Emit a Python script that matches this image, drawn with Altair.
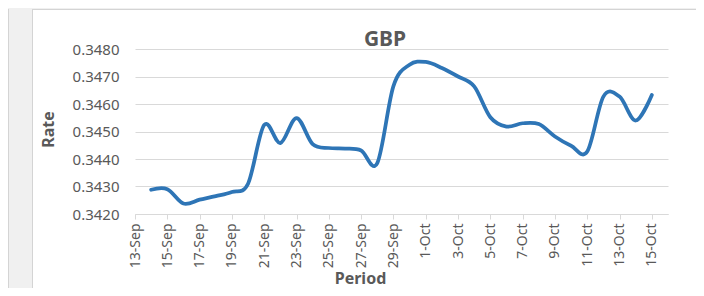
import altair as alt
import pandas as pd

# ---- data ----
dates = [
    "2020-09-14", "2020-09-15", "2020-09-16", "2020-09-17", "2020-09-18",
    "2020-09-19", "2020-09-20", "2020-09-21", "2020-09-22", "2020-09-23",
    "2020-09-24", "2020-09-25", "2020-09-26", "2020-09-27", "2020-09-28",
    "2020-09-29", "2020-09-30", "2020-10-01", "2020-10-02", "2020-10-03",
    "2020-10-04", "2020-10-05", "2020-10-06", "2020-10-07", "2020-10-08",
    "2020-10-09", "2020-10-10", "2020-10-11", "2020-10-12", "2020-10-13",
    "2020-10-14", "2020-10-15",
]
rates = [
    0.34288, 0.34290, 0.34238, 0.34252, 0.34265,
    0.34280, 0.34310, 0.34524, 0.34458, 0.34549,
    0.34454, 0.34440, 0.34438, 0.34431, 0.34385,
    0.34665, 0.34743, 0.34753, 0.34731, 0.34700,
    0.34664, 0.34552, 0.34518, 0.34530, 0.34527,
    0.34482, 0.34448, 0.34427, 0.34627, 0.34627,
    0.34540, 0.34633,
]
tick_days = [(9, 13), (9, 15), (9, 17), (9, 19), (9, 21), (9, 23), (9, 25),
             (9, 27), (9, 29), (10, 1), (10, 3), (10, 5), (10, 7), (10, 9),
             (10, 11), (10, 13), (10, 15)]
y_ticks = [0.342, 0.343, 0.344, 0.345, 0.346, 0.347, 0.348]
domain_start = (9, 13)
domain_end = (10, 16)
chart_title = "GBP"

FONT = "Noto Sans"
TXT = "#595959"
GRID = "#d9d9d9"
BG = "#f0f0f0"
BORDER = "#d4d4d4"

df = pd.DataFrame({"Period": dates, "Rate": rates})


def dt(md):
    return alt.DateTime(year=2020, month=md[0], date=md[1], utc=True)


x_enc = alt.X(
    "Period:T",
    scale=alt.Scale(type="utc", domain=[dt(domain_start), dt(domain_end)]),
    axis=alt.Axis(
        values=[dt(t) for t in tick_days],
        labelExpr="utcFormat(datum.value, '%-d-%b')",
        labelAngle=270,
        labelAlign="right",
        labelBaseline="middle",
        labelFont=FONT,
        labelFontSize=14,
        labelColor=TXT,
        labelPadding=4,
        labelOverlap=False,
        labelFlush=False,
        ticks=True,
        tickSize=5,
        tickColor=GRID,
        domain=True,
        domainColor=GRID,
        grid=False,
        title="Period",
        titleFont=FONT,
        titleFontSize=16,
        titleFontWeight="bold",
        titleColor=TXT,
        titleX=225,
        titleY=69,
        titleAlign="center",
        titleBaseline="alphabetic",
    ),
)

y_enc = alt.Y(
    "Rate:Q",
    scale=alt.Scale(domain=[y_ticks[0], y_ticks[-1]], nice=False, zero=False),
    axis=alt.Axis(
        values=y_ticks,
        format=".4f",
        labelFont=FONT,
        labelFontSize=15,
        labelColor=TXT,
        labelPadding=16,
        ticks=False,
        tickSize=0,
        domain=False,
        grid=True,
        gridColor=GRID,
        gridWidth=1,
        title="Rate",
        titleFont=FONT,
        titleFontSize=16,
        titleFontWeight="bold",
        titleColor=TXT,
        titleAngle=270,
        titleX=-87,
        titleY=80,
        titleAlign="center",
        titleBaseline="middle",
    ),
)

line = alt.Chart(df).mark_line(
    interpolate="cardinal", color="#2e75b6", strokeWidth=3.75,
    strokeCap="round", strokeJoin="round"
).encode(x=x_enc, y=y_enc)

one = alt.Data(values=[{"a": 1}])

# chart title as a text mark placed above the plot
title = alt.Chart(alt.Data(values=[{"t": chart_title}])).mark_text(
    font=FONT, fontSize=21, fontWeight="bold", color=TXT,
    align="center", baseline="alphabetic"
).encode(x=alt.value(250), y=alt.value(-3), text="t:N")

# surrounding grey workspace and chart-area borders (decoration only)
gray_left = alt.Chart(one).mark_rect(color=BG).encode(
    x=alt.value(-127), x2=alt.value(-103), y=alt.value(-41), y2=alt.value(250))
gray_top = alt.Chart(one).mark_rect(color=BG).encode(
    x=alt.value(-127), x2=alt.value(572), y=alt.value(-41), y2=alt.value(-40))
border_l1 = alt.Chart(one).mark_rule(color=BORDER, strokeWidth=1).encode(
    x=alt.value(-126.5), y=alt.value(-40), y2=alt.value(250))
border_l2 = alt.Chart(one).mark_rule(color=BORDER, strokeWidth=1).encode(
    x=alt.value(-102.5), y=alt.value(-40), y2=alt.value(250))
border_t = alt.Chart(one).mark_rule(color=BORDER, strokeWidth=1).encode(
    x=alt.value(-102.5), x2=alt.value(572), y=alt.value(-39.5))

chart = alt.layer(
    gray_left, gray_top, border_l1, border_l2, border_t, title, line
).properties(
    width=533,
    height=165,
    background="white",
    padding={"left": 127, "top": 41, "right": 28, "bottom": 74},
    autosize=alt.AutoSizeParams(type="none"),
).configure_view(stroke=None)

chart.save("out.html", embed_options={"renderer": "svg", "actions": False})
